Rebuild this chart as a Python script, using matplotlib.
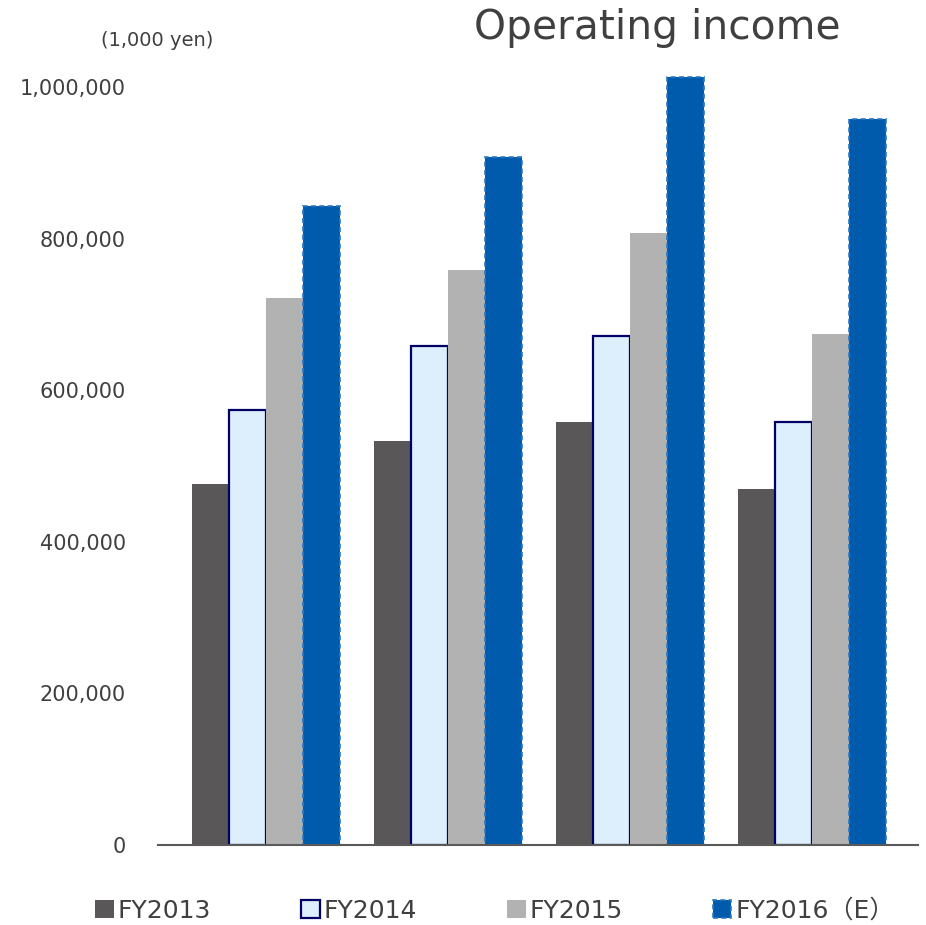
import matplotlib
matplotlib.use("Agg")
import matplotlib.pyplot as plt
import numpy as np
from matplotlib.ticker import FuncFormatter

groups = ["Q1", "Q2", "Q3", "Q4"]
series_names = ["FY2013", "FY2014", "FY2015", "FY2016（E）"]
fy2013 = [476000, 533000, 558000, 470000]
fy2014 = [574000, 658000, 671000, 558000]
fy2015 = [722000, 758000, 807000, 674000]
fy2016 = [843000, 908000, 1013000, 958000]
yticks = [0, 200000, 400000, 600000, 800000, 1000000]

fig = plt.figure(figsize=(9.26, 9.25), dpi=100)
ax = fig.add_axes([158/926, 80/925, 760/926, (845-49)/925])

x = np.arange(len(groups))
w = 0.203
offs = [-1.5*w, -0.5*w, 0.5*w, 1.5*w]
b1 = ax.bar(x+offs[0], fy2013, w, color="#595757", linewidth=0, label=series_names[0])
b2 = ax.bar(x+offs[1], fy2014, w, color="#DDEEFD", edgecolor="#000066", linewidth=1.6, label=series_names[1])
b3 = ax.bar(x+offs[2], fy2015, w, color="#B2B2B2", linewidth=0, label=series_names[2])
b4 = ax.bar(x+offs[3], fy2016, w, color="#005BAC", edgecolor="#2C78C4", linewidth=1.2,
            linestyle=(0, (3, 2)), label=series_names[3])

ax.set_xlim(-0.593, 3.582)
ax.set_ylim(0, 1050000)
ax.set_yticks(yticks)
ax.yaxis.set_major_formatter(FuncFormatter(lambda v, p: f"{int(v):,}"))
ax.tick_params(axis="y", length=0, pad=23, labelsize=15, labelcolor="#404040")
ax.set_xticks([])
for s in ["top", "right", "left"]:
    ax.spines[s].set_visible(False)
ax.spines["bottom"].set_color("#595959")
ax.spines["bottom"].set_linewidth(1.5)

fig.text(657/926, 1-28/925, "Operating income", ha="center", va="center",
         fontsize=29.3, color="#404040")
fig.text(157/926, 1-40/925, "(1,000 yen)", ha="center", va="center",
         fontsize=14, color="#404040")

leg = fig.legend(handles=[b1, b2, b3, b4], labels=series_names, loc="center left",
                 bbox_to_anchor=(85/926, 1-911/925), ncol=4, frameon=False,
                 handlelength=0.75, handleheight=0.75, handletextpad=0.15,
                 columnspacing=3.6, borderaxespad=0,
                 prop={"family": ["DejaVu Sans", "Noto Sans CJK JP"], "size": 18})
for t in leg.get_texts():
    t.set_color("#404040")

fig.savefig("out.png", dpi=100)
